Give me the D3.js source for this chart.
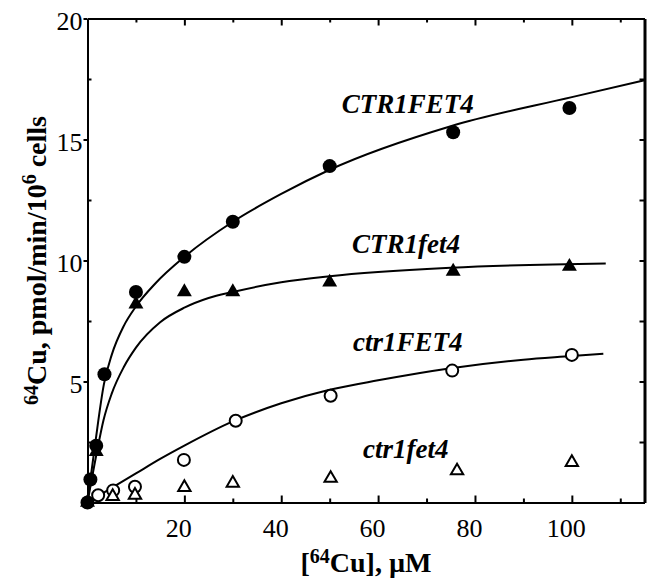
<!DOCTYPE html>
<html>
<head>
<meta charset="utf-8">
<script src="https://cdn.jsdelivr.net/npm/d3@7"></script>
<style>
  body { margin: 0; background: #fff; }
  svg { display: block; font-family: "Liberation Serif", "Times New Roman", serif; }
  .axis path, .axis line { stroke: #000; stroke-width: 2; }
  .axis text { font-size: 26px; fill: #000; font-family: "Liberation Serif", serif; }
  .curve { fill: none; stroke: #000; stroke-width: 2; }
  .label { font-size: 27px; font-weight: bold; font-style: italic; }
</style>
</head>
<body>
<svg id="chart"></svg>
<script>
// measured points (uM, pmol/min/10^6 cells)
var ctrFetHiX = [0, 0.6, 1.8, 3.5, 10, 20, 30, 50, 75.5, 99.5];
var ctrFetHiY = [0, 0.95, 2.35, 5.3, 8.7, 10.15, 11.6, 13.9, 15.3, 16.3];

var ctrFetLoX = [0, 1.8, 10, 20, 30, 50, 75.5, 99.5];
var ctrFetLoY = [0, 2.1, 8.2, 8.7, 8.7, 9.1, 9.55, 9.75];

var ctrMutFetX = [2.2, 5.3, 9.8, 19.9, 30.6, 50.2, 75.3, 100];
var ctrMutFetY = [0.3, 0.5, 0.65, 1.76, 3.38, 4.41, 5.45, 6.1];

var ctrMutMutX = [5.2, 9.8, 20, 30, 50.2, 76.3, 100];
var ctrMutMutY = [0.25, 0.3, 0.62, 0.8, 1.0, 1.31, 1.66];

// fitted curves
var fitAX = [0, 0.7, 1.7, 3.4, 5, 7.5, 10, 14, 20, 30, 40, 50, 75, 100, 115];
var fitAY = [0, 1.1, 2.6, 4.9, 6.1, 7.3, 8.1, 9.05, 10.15, 11.6, 12.75, 13.75, 15.55, 16.75, 17.45];

var fitBX = [0, 2, 3.3, 5, 7.5, 10, 15, 20, 25, 30, 40, 50, 75, 107];
var fitBY = [0, 2.15, 3.4, 4.5, 5.6, 6.4, 7.45, 8.05, 8.45, 8.7, 9.1, 9.35, 9.7, 9.88];

var fitCX = [0, 5, 10, 15, 20, 30, 40, 50, 60, 75, 90, 100, 106.5];
var fitCY = [0, 0.6, 1.2, 1.8, 2.35, 3.35, 4.1, 4.66, 5.05, 5.55, 5.9, 6.05, 6.15];

var xMajor = [20, 40, 60, 80, 100];
var xMinor = [10, 30, 50, 70, 90, 110];
var yMajor = [5, 10, 15, 20];
var yMinor = [2.5, 7.5, 12.5, 17.5];
var yRight = [2.5, 5, 7.5, 10, 12.5, 15, 17.5];

var labelNames = ["CTR1FET4", "CTR1fet4", "ctr1FET4", "ctr1fet4"];
var labelX = [52.5, 54.6, 54.8, 56.9];
var labelY = [16.1, 10.3, 6.26, 1.83];

var width = 651, height = 581;

var svg = d3.select("#chart")
    .attr("width", width)
    .attr("height", height);

svg.append("rect").attr("width", width).attr("height", height).attr("fill", "#fff");

var x = d3.scaleLinear().domain([0, 115]).range([87.5, 644.5]);
var y = d3.scaleLinear().domain([0, 20]).range([502.5, 18.5]);

function zip(xs, ys) {
    return xs.map(function (d, i) { return [d, ys[i]]; });
}

// axes
var bottom = svg.append("g").attr("class", "axis")
    .attr("transform", "translate(0," + y(0) + ")")
    .call(d3.axisBottom(x).tickValues(xMajor).tickSize(-7).tickSizeOuter(0).tickPadding(16.5));
bottom.selectAll("text").attr("dx", -6);

svg.append("g").attr("class", "axis")
    .attr("transform", "translate(0," + y(0) + ")")
    .call(d3.axisBottom(x).tickValues(xMinor).tickSize(-4).tickFormat(""))
    .select(".domain").remove();

svg.append("g").attr("class", "axis")
    .attr("transform", "translate(0," + y(20) + ")")
    .call(d3.axisTop(x).tickValues(xMajor).tickSize(-7).tickSizeOuter(0).tickFormat(""));

svg.append("g").attr("class", "axis")
    .attr("transform", "translate(0," + y(20) + ")")
    .call(d3.axisTop(x).tickValues(xMinor).tickSize(-4).tickFormat(""))
    .select(".domain").remove();

var left = svg.append("g").attr("class", "axis")
    .attr("transform", "translate(" + x(0) + ",0)")
    .call(d3.axisLeft(y).tickValues(yMajor).tickSize(4).tickSizeOuter(0).tickPadding(1));
left.selectAll("text").attr("dy", "0.42em");

svg.append("g").attr("class", "axis")
    .attr("transform", "translate(" + x(0) + ",0)")
    .call(d3.axisLeft(y).tickValues(yMinor).tickSize(-4).tickFormat(""))
    .select(".domain").remove();

var right = svg.append("g").attr("class", "axis")
    .attr("transform", "translate(" + x(115) + ",0)")
    .call(d3.axisRight(y).tickValues(yRight).tickSize(-5).tickSizeOuter(0).tickFormat(""));
right.select(".domain").style("stroke-width", 3);

// axis titles
var xt = svg.append("text")
    .attr("x", (x(0) + x(115)) / 2)
    .attr("y", 572)
    .attr("text-anchor", "middle")
    .style("font-weight", "bold")
    .style("font-size", "28px");
xt.append("tspan").text("[");
xt.append("tspan").attr("dy", -9).style("font-size", "20px").text("64");
xt.append("tspan").attr("dy", 9).text("Cu], \u00b5M");

var yt = svg.append("text")
    .attr("transform", "translate(46," + y(10) + ") rotate(-90)")
    .attr("text-anchor", "middle")
    .style("font-weight", "bold")
    .style("font-size", "28px");
yt.append("tspan").attr("dy", -8).style("font-size", "20px").text("64");
yt.append("tspan").attr("dy", 8).text("Cu, pmol/min/10");
yt.append("tspan").attr("dy", -10).style("font-size", "20px").text("6");
yt.append("tspan").attr("dy", 10).text(" cells");

// curves
var line = d3.line()
    .x(function (d) { return x(d[0]); })
    .y(function (d) { return y(d[1]); })
    .curve(d3.curveMonotoneX);

[zip(fitAX, fitAY), zip(fitBX, fitBY), zip(fitCX, fitCY)].forEach(function (c) {
    svg.append("path").attr("class", "curve").attr("d", line(c));
});

// markers
var triFilled = d3.symbol().type(d3.symbolTriangle).size(97)();
var triOpen = d3.symbol().type(d3.symbolTriangle).size(66)();

svg.append("g").selectAll("circle")
    .data(zip(ctrFetHiX, ctrFetHiY))
    .enter().append("circle")
    .attr("cx", function (d) { return x(d[0]); })
    .attr("cy", function (d) { return y(d[1]); })
    .attr("r", 7)
    .attr("fill", "#000");

svg.append("g").selectAll("path")
    .data(zip(ctrFetLoX, ctrFetLoY))
    .enter().append("path")
    .attr("d", triFilled)
    .attr("transform", function (d) { return "translate(" + x(d[0]) + "," + y(d[1]) + ")"; })
    .attr("fill", "#000");

svg.append("g").selectAll("circle")
    .data(zip(ctrMutFetX, ctrMutFetY))
    .enter().append("circle")
    .attr("cx", function (d) { return x(d[0]); })
    .attr("cy", function (d) { return y(d[1]); })
    .attr("r", 6)
    .attr("fill", "#fff")
    .attr("stroke", "#000")
    .attr("stroke-width", 2);

svg.append("g").selectAll("path")
    .data(zip(ctrMutMutX, ctrMutMutY))
    .enter().append("path")
    .attr("d", triOpen)
    .attr("transform", function (d) { return "translate(" + x(d[0]) + "," + y(d[1]) + ")"; })
    .attr("fill", "#fff")
    .attr("stroke", "#000")
    .attr("stroke-width", 2);

// strain labels
svg.append("g").selectAll("text")
    .data(labelNames)
    .enter().append("text")
    .attr("class", "label")
    .attr("x", function (d, i) { return x(labelX[i]); })
    .attr("y", function (d, i) { return y(labelY[i]); })
    .text(function (d) { return d; });
</script>
</body>
</html>
